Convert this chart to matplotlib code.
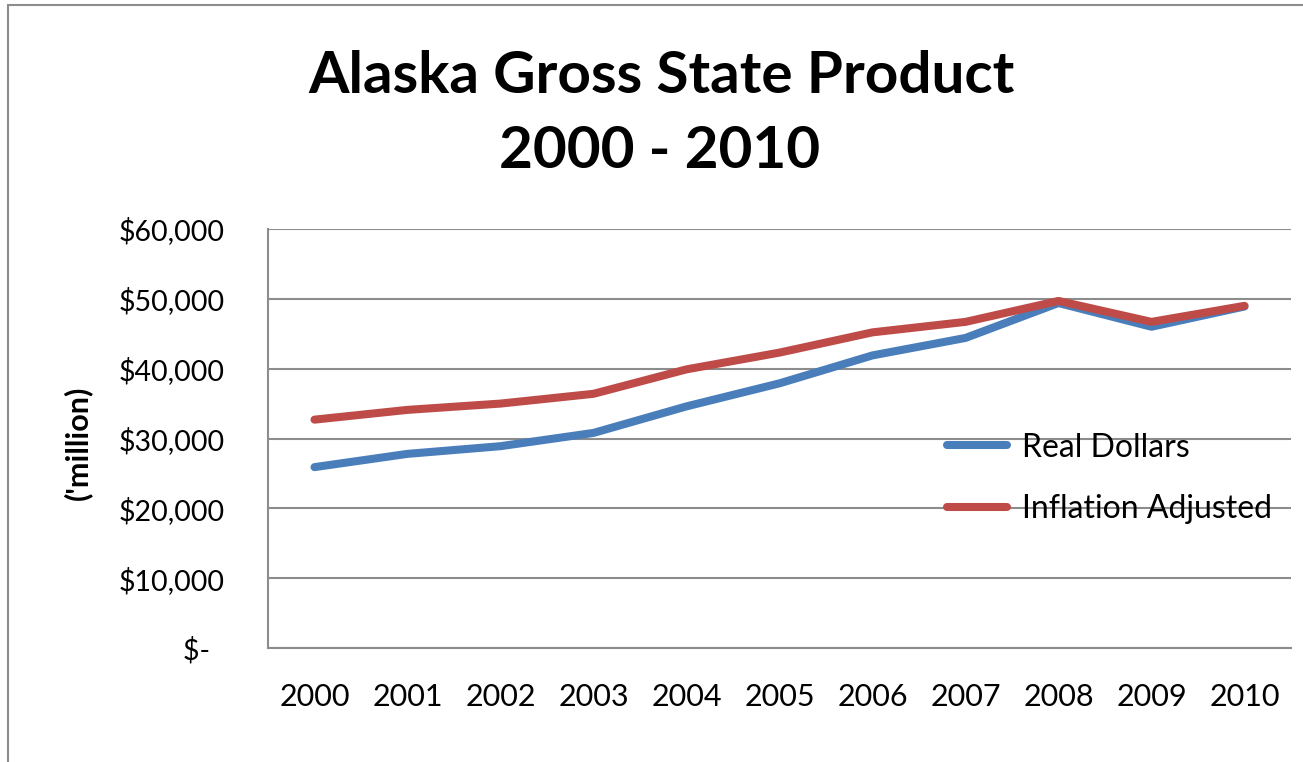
import matplotlib.pyplot as plt
from matplotlib.ticker import FuncFormatter
from matplotlib.patches import Rectangle

# ----------------------------
# Data
# ----------------------------

years = ["2000", "2001", "2002", "2003", "2004", "2005",
         "2006", "2007", "2008", "2009", "2010"]

real_dollars = [25900, 27800, 28900, 30800, 34600, 37900,
                41900, 44400, 49400, 46000, 48900]

inflation_adjusted = [32700, 34100, 35000, 36400, 39900, 42300,
                      45200, 46700, 49700, 46700, 49000]

y_ticks = [0, 10000, 20000, 30000, 40000, 50000, 60000]

# ----------------------------
# Plot
# ----------------------------

plt.rcParams["font.family"] = ["Lato", "DejaVu Sans"]

W, H = 1303, 762
fig = plt.figure(figsize=(W / 100, H / 100), dpi=100)

# chart border (grey frame, cut at right/bottom)
fig.patches.append(Rectangle((8 / W, -0.01), 1.2, 1 - 5 / H + 0.01,
                             transform=fig.transFigure, fill=False,
                             edgecolor="#8c8c8c", linewidth=1.5))

ax = fig.add_axes([268 / W, 114 / H, 1023 / W, 419 / H])

x = range(len(years))
ax.plot(x, real_dollars, color="#4A7EBB", linewidth=5.8,
        solid_capstyle="round", label="Real Dollars", zorder=3)
ax.plot(x, inflation_adjusted, color="#BE4B48", linewidth=5.8,
        solid_capstyle="round", label="Inflation Adjusted", zorder=3)

ax.set_xlim(-0.5, len(years) - 0.5)
ax.set_ylim(0, 60000)
ax.set_xticks(list(x))
ax.set_xticklabels(years)
ax.set_yticks(y_ticks)


def dollar(v, pos):
    if v == 0:
        return "$-  "
    return f"${v:,.0f}"


ax.yaxis.set_major_formatter(FuncFormatter(dollar))
ax.tick_params(axis="both", length=0, colors="black")
ax.tick_params(axis="x", pad=25, labelsize=22)
ax.tick_params(axis="y", pad=31, labelsize=20.5)

ax.grid(axis="y", color="#8c8c8c", linewidth=1.5, zorder=0)
for side in ["top", "right"]:
    ax.spines[side].set_visible(False)
for side in ["left", "bottom"]:
    ax.spines[side].set_color("#8c8c8c")
    ax.spines[side].set_linewidth(1.5)

ax.set_ylabel("('million)", fontsize=22, fontweight="bold")
ax.yaxis.set_label_coords(-0.172, 0.49)

# white area behind the legend hides the gridlines there
ax.add_patch(Rectangle((0.639, 0.30), 0.37, 0.23, transform=ax.transAxes,
                       facecolor="white", edgecolor="none", zorder=1,
                       clip_on=False))

leg = ax.legend(loc="center left", bbox_to_anchor=(0.639, 0.4045),
                frameon=False, fontsize=23, handlelength=1.9,
                labelspacing=1.0, handletextpad=0.45, borderpad=0.78,
                borderaxespad=0)
for line in leg.get_lines():
    line.set_linewidth(5.8)
    line.set_solid_capstyle("round")

fig.text(661 / W, 1 - 93 / H, "Alaska Gross State Product",
         ha="center", va="baseline", fontsize=42, fontweight="bold")
fig.text(660 / W, 1 - 168 / H, "2000 - 2010",
         ha="center", va="baseline", fontsize=42, fontweight="bold")

fig.savefig("out.png", dpi=100)
